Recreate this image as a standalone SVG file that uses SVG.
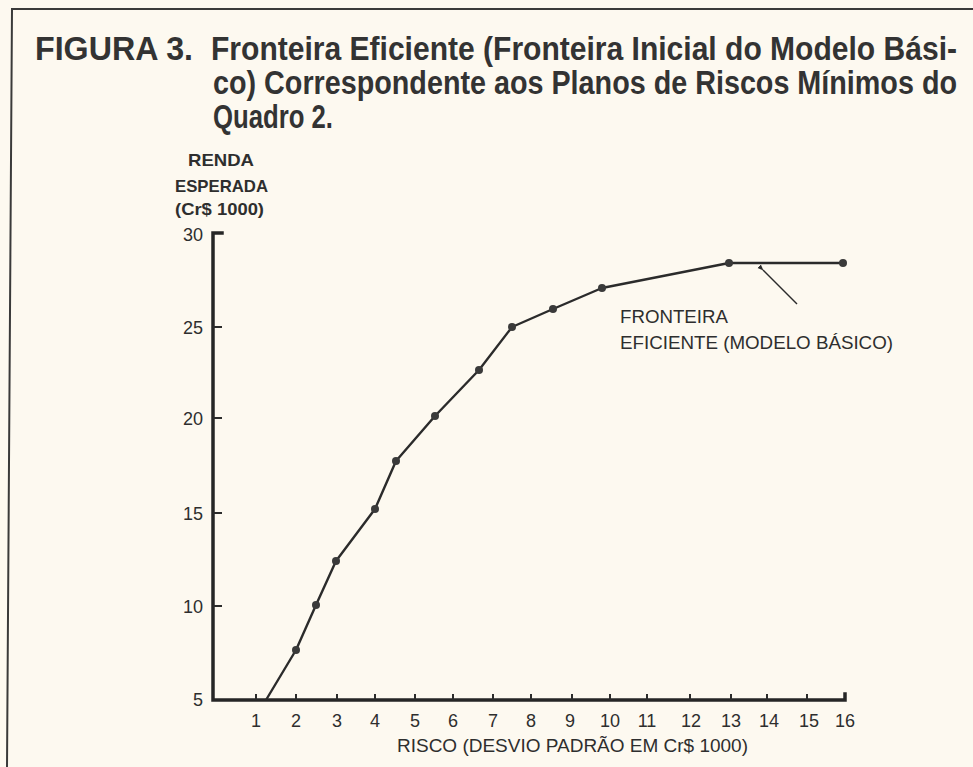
<svg xmlns="http://www.w3.org/2000/svg" width="973" height="767" viewBox="0 0 973 767">
<style>
.title{font-family:"Liberation Sans Narrow","Liberation Sans",Arial,sans-serif;font-weight:bold;font-size:30px;fill:#333}
.title2{font-size:28px}
.lab{font-family:"Liberation Sans",Arial,sans-serif;font-size:18px;fill:#2e2e2e}
.labb{font-family:"Liberation Sans",Arial,sans-serif;font-size:17px;font-weight:bold;fill:#2e2e2e}
.axis{stroke:#262626;stroke-width:3.5;fill:none;stroke-linecap:square}
.tick{stroke:#2b2b2b;stroke-width:2;fill:none}
.curve{stroke:#2b2b2b;stroke-width:2.4;fill:none;stroke-linejoin:round}
.dot{fill:#3a3a3a}
</style>
<defs>
<marker id="ah" viewBox="0 0 10 10" refX="1" refY="5" markerWidth="4" markerHeight="4" orient="auto">
<path d="M0,5 L10,1 L10,9 Z" fill="#2b2b2b"/>
</marker>
</defs>
<rect width="973" height="767" fill="#fdf9f0"/>
<!-- frame -->
<path d="M973,9 L12,9 L7,767" fill="none" stroke="#3a3a3a" stroke-width="2"/>
<!-- title -->
<g id="title">
<g transform="translate(0,60) scale(1,1.1)">
<text class="title" x="35" y="0" textLength="158" lengthAdjust="spacingAndGlyphs">FIGURA 3.</text>
<text class="title" x="211" y="0" textLength="746" lengthAdjust="spacingAndGlyphs">Fronteira Eficiente (Fronteira Inicial do Modelo Bási-</text>
</g>
<g transform="translate(0,94) scale(1,1.18)">
<text class="title title2" x="213" y="0" textLength="744" lengthAdjust="spacingAndGlyphs">co) Correspondente aos Planos de Riscos Mínimos do</text>
</g>
<g transform="translate(0,128) scale(1,1.1)">
<text class="title" x="213" y="0" textLength="120" lengthAdjust="spacingAndGlyphs">Quadro 2.</text>
</g>
</g>
<!-- y axis title -->
<g id="y-title">
<text class="labb" x="188" y="166" textLength="66" lengthAdjust="spacingAndGlyphs">RENDA</text>
<text class="labb" x="175" y="192" textLength="93" lengthAdjust="spacingAndGlyphs">ESPERADA</text>
<text class="labb" x="175" y="215" textLength="89" lengthAdjust="spacingAndGlyphs">(Cr$ 1000)</text>
</g>
<!-- axes -->
<g id="axes">
<path class="axis" d="M222,233 L213,233 L213,700 L845,700 L845,694"/>
<g class="tick">
<path d="M213,327 H222 M213,418 H222 M213,513 H222 M213,606 H222"/>
<path d="M256,700 V694 M296,700 V694 M337,700 V694 M375,700 V694 M415,700 V694 M453,700 V694 M493,700 V694 M531,700 V694 M572,700 V694 M610,700 V694 M647,700 V694 M690,700 V694 M731,700 V694 M767,700 V694 M807,700 V694"/>
</g>
<g class="lab" text-anchor="end">
<text x="203" y="241">30</text>
<text x="203" y="334">25</text>
<text x="203" y="425">20</text>
<text x="203" y="520">15</text>
<text x="203" y="613">10</text>
<text x="203" y="706">5</text>
</g>
<g class="lab" text-anchor="middle">
<text x="256" y="727">1</text>
<text x="296" y="727">2</text>
<text x="337" y="727">3</text>
<text x="375" y="727">4</text>
<text x="415" y="727">5</text>
<text x="453" y="727">6</text>
<text x="493" y="727">7</text>
<text x="531" y="727">8</text>
<text x="570" y="727">9</text>
<text x="610" y="727">10</text>
<text x="647" y="727">11</text>
<text x="691" y="727">12</text>
<text x="731" y="727">13</text>
<text x="769" y="727">14</text>
<text x="809" y="727">15</text>
<text x="845" y="727">16</text>
</g>
<text class="lab" x="397" y="752" textLength="351" lengthAdjust="spacingAndGlyphs">RISCO (DESVIO PADRÃO EM Cr$ 1000)</text>
</g>
<!-- frontier -->
<g id="frontier">
<path class="curve" d="M266,700 L296,650 L316,605 L336,561 L375,509 L396,461 L435,416 L479,370 L512,327 L553,309 L602,288 L729,263 L843,263"/>
<g class="dot">
<circle cx="296" cy="650" r="4"/>
<circle cx="316" cy="605" r="4"/>
<circle cx="336" cy="561" r="4"/>
<circle cx="375" cy="509" r="4"/>
<circle cx="396" cy="461" r="4"/>
<circle cx="435" cy="416" r="4"/>
<circle cx="479" cy="370" r="4"/>
<circle cx="512" cy="327" r="4"/>
<circle cx="553" cy="309" r="4"/>
<circle cx="602" cy="288" r="4"/>
<circle cx="729" cy="263" r="4"/>
<circle cx="843" cy="263" r="4"/>
</g>
</g>
<!-- annotation -->
<g id="connectors">
<path d="M797,304 L763,270" stroke="#2b2b2b" stroke-width="1.5" fill="none" marker-end="url(#ah)"/>
</g>
<g id="label-fronteira">
<text class="lab" x="620" y="323" textLength="108" lengthAdjust="spacingAndGlyphs">FRONTEIRA</text>
<text class="lab" x="620" y="349" textLength="273" lengthAdjust="spacingAndGlyphs">EFICIENTE (MODELO BÁSICO)</text>
</g>
</svg>
